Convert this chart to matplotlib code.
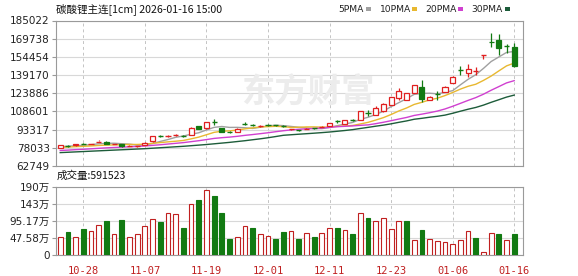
import matplotlib
matplotlib.use('Agg')
import matplotlib.pyplot as plt
from matplotlib.patches import Rectangle

dates = ['10-23','10-24','10-27','10-28','10-29','10-30','10-31',
         '11-03','11-04','11-05','11-06','11-07','11-10','11-11','11-12','11-13','11-14',
         '11-17','11-18','11-19','11-20','11-21','11-24','11-25','11-26','11-27','11-28',
         '12-01','12-02','12-03','12-04','12-05','12-08','12-09','12-10','12-11','12-12',
         '12-15','12-16','12-17','12-18','12-19','12-22','12-23','12-24','12-25','12-26',
         '12-29','12-30','12-31','01-05','01-06','01-07','01-08','01-09',
         '01-12','01-13','01-14','01-15','01-16']

opens = [78000, 79600, 80000, 81500, 81500, 83200, 83000, 81500, 81100, 79500,
         79300, 80500, 83400, 88000, 87600, 88500, 88000, 88900, 96400, 94300,
         100000, 94800, 91700, 91400, 98000, 97200, 96000, 97200, 97100, 96400,
         93500, 93000, 94000, 94700, 95400, 96200, 100600, 97900, 101400, 101800,
         107600, 106000, 108800, 114400, 120300, 118600, 124500, 129200, 118100, 123300,
         125000, 132900, 143500, 141000, 142200, 155700, 167300, 168500, 163600, 162800]
highs = [80500, 80300, 81600, 82300, 82400, 84500, 83600, 81900, 81400, 80200,
         79700, 82500, 88000, 89000, 88700, 89900, 88500, 95300, 96700, 99800,
         102600, 95100, 91900, 94500, 99500, 98000, 97000, 97800, 97300, 97200,
         94000, 93200, 94400, 94900, 96300, 99000, 101800, 101300, 102600, 109000,
         110200, 113000, 115300, 120900, 127900, 124000, 130700, 134800, 121400, 125800,
         129800, 138200, 146600, 148300, 146000, 156000, 174100, 173500, 165100, 165700]
lows = [77700, 78900, 79800, 80900, 81200, 82900, 81000, 81300, 78900, 79300,
        79100, 80300, 83200, 86900, 87000, 87900, 87200, 88700, 93800, 94000,
        97100, 91000, 90900, 91200, 96900, 96300, 95600, 96500, 96700, 95700,
        93300, 92500, 93800, 94100, 95200, 96000, 98500, 97700, 100200, 101600,
        104900, 105800, 108500, 114200, 118000, 118300, 124200, 116600, 117800, 118100,
        124700, 132700, 139100, 137600, 139600, 152300, 162800, 155900, 157300, 146000]
closes = [80000, 79300, 81300, 81200, 81700, 83400, 81400, 81700, 79200, 79700,
          79500, 82200, 87800, 87700, 87800, 88700, 87800, 95100, 94000, 99500,
          99700, 91400, 91300, 94200, 97800, 97000, 96300, 97000, 96900, 96100,
          93700, 92800, 94200, 94400, 95700, 98700, 100300, 101000, 101100, 108800,
          107300, 111900, 114900, 120500, 125400, 123700, 130400, 118900, 121100, 123000,
          129500, 137900, 143200, 144300, 142500, 155900, 166900, 162300, 163300, 146600]

# volume in units of 10k (万)
volumes = [50.4, 63.4, 50.4, 73.7, 68.1, 84.9, 94.2, 59.7, 98.9, 50.4,
           59.7, 82.1, 100.8, 93.3, 117.6, 112.9, 76.5, 140.9, 152.1, 180.1,
           163.3, 116.6, 45.7, 50.4, 82.1, 76.5, 59.7, 54.1, 45.7, 65.3,
           68.1, 45.7, 62.5, 51.3, 62.5, 75.6, 75.6, 70.9, 59.7, 117.6,
           104.5, 95.2, 103.6, 72.8, 95.2, 95.2, 42.9, 70.9, 44.8, 40.1,
           35.5, 31.7, 42.0, 68.1, 48.5, 7.5, 62.5, 59.7, 42.9, 59.15]
vol_up = [1, 0, 1, 0, 1, 1, 0, 1, 0, 1,
          1, 1, 1, 0, 1, 1, 0, 1, 0, 1,
          0, 0, 0, 1, 1, 0, 1, 1, 0, 0,
          1, 0, 1, 0, 1, 1, 0, 1, 0, 1,
          0, 1, 1, 1, 1, 0, 1, 0, 1, 1,
          1, 1, 1, 1, 0, 1, 1, 0, 1, 0]

ma5 = [79000, 79300, 79800, 80200, 80700, 81380, 81800, 81880, 81480, 81080,
       80300, 80460, 81680, 83380, 85000, 86840, 87960, 89420, 90680, 93020,
       95220, 95940, 95180, 95220, 94880, 94340, 95320, 96460, 97000, 96660,
       96000, 95300, 94740, 94240, 94160, 95160, 96660, 98020, 99360, 101980,
       103700, 106020, 108800, 112680, 116000, 119280, 122980, 123780, 123900, 123420,
       124580, 126080, 130940, 135580, 139480, 144760, 150560, 154380, 158180, 159000]
ma10 = [78500, 78700, 79000, 79300, 79600, 80000, 80300, 80500, 80700, 80890,
        80840, 81130, 81780, 82430, 83040, 83570, 84210, 85550, 87030, 89010,
        91030, 91950, 92300, 92950, 93950, 94780, 95630, 95820, 96110, 95770,
        95170, 95310, 95600, 95620, 95410, 95580, 95980, 96380, 96800, 98070,
        99430, 101340, 103410, 106020, 108990, 111490, 114500, 116290, 118290, 119710,
        121930, 124530, 127360, 129740, 131450, 134670, 138320, 142660, 146880, 149240]
ma20 = [75800, 76100, 76500, 76800, 77200, 77600, 78000, 78300, 78600, 78900,
        79200, 79600, 80100, 80600, 81200, 81800, 82400, 83200, 84000, 84950,
        85935, 86540, 87040, 87690, 88495, 89175, 89920, 90685, 91570, 92390,
        93100, 93630, 93950, 94285, 94680, 95180, 95805, 96100, 96455, 96920,
        97300, 98325, 99505, 100820, 102200, 103535, 105240, 106335, 107545, 108890,
        110680, 112935, 115385, 117880, 120220, 123080, 126410, 129475, 132585, 134475]
ma30 = [74000, 74300, 74600, 74900, 75200, 75500, 75800, 76100, 76400, 76700,
        77000, 77300, 77700, 78100, 78500, 78900, 79300, 79800, 80300, 80800,
        81400, 82000, 82600, 83300, 84000, 84800, 85600, 86500, 87500, 88557,
        89013, 89463, 89893, 90333, 90800, 91310, 91940, 92583, 93313, 94283,
        95210, 96200, 97103, 98197, 99450, 100617, 102037, 102830, 103733, 104517,
        105510, 107060, 108790, 110460, 111950, 113913, 116267, 118443, 120657, 122340]

price_ticks = [62749, 78033, 93317, 108601, 123886, 139170, 154454, 169738, 185022]
vol_ticks = [0, 47.58, 95.17, 142.75, 190.33]
vol_tick_labels = ['0', '47.58万', '95.17万', '143万', '190万']
xtick_labels = ['10-28', '11-07', '11-19', '12-01', '12-11', '12-23', '01-06', '01-16']
ma_names = ['5PMA', '10PMA', '20PMA', '30PMA']

RED = '#e02020'
VRED = '#c02020'
GREEN = '#127a12'
MA_COLORS = ['#a0a0a0', '#e8b830', '#d040d0', '#1d5c3a']
GRID = '#d8d8d8'
FRAME = '#9a9a9a'

W, H = 578, 276
fig = plt.figure(figsize=(W / 100, H / 100), dpi=100)

def fx(px):
    return px / W

def fy(py):
    return 1 - py / H

L, R = 56, 522.7
ax = fig.add_axes([fx(L), fy(166), (R - L) / W, (166 - 20.5) / H])
axv = fig.add_axes([fx(L), fy(255), (R - L) / W, (255 - 186.7) / H])

n = len(closes)
xs = list(range(n))
xlo, xhi = -0.55, 60.1
grid_idx = [dates.index(d) for d in xtick_labels]

for a in (ax, axv):
    a.set_xlim(xlo, xhi)
    for s in a.spines.values():
        s.set_color(FRAME)
        s.set_linewidth(0.8)
    for gi in grid_idx:
        a.axvline(gi, color='#c4c4c4', lw=0.7, ls=(0, (3, 3)), zorder=0)
    a.set_axisbelow(True)
    a.grid(axis='y', color=GRID, lw=0.8, ls='-')
    a.tick_params(axis='y', direction='out', length=3, color=FRAME, pad=1.5,
                  labelsize=7.5, labelcolor='#222222')

# watermark
fig.text(fx(308), fy(93), '东方财富', fontsize=24, fontweight='bold', color='#ececec',
         family=['Noto Sans CJK SC'], ha='center', va='center', zorder=0)

# price panel
ax.set_ylim(price_ticks[0], price_ticks[-1])
ax.set_yticks(price_ticks)
ax.set_yticklabels([str(v) for v in price_ticks])
ax.set_xticks([])

for nm, ma, col in zip(ma_names, [ma5, ma10, ma20, ma30], MA_COLORS):
    ax.plot(xs, ma, color=col, lw=1.0, zorder=2)

bw = 0.66
for i in xs:
    o, h, l, c = opens[i], highs[i], lows[i], closes[i]
    up = c >= o
    col = RED if up else GREEN
    top, bot = max(o, c), min(o, c)
    ax.vlines(i, top, h, color=col, lw=0.9, zorder=3)
    ax.vlines(i, l, bot, color=col, lw=0.9, zorder=3)
    if top - bot < 400:
        ax.hlines((top + bot) / 2, i - bw / 2, i + bw / 2, color=col, lw=1.0, zorder=3)
    else:
        ax.add_patch(Rectangle((i - bw / 2, bot), bw, top - bot,
                               facecolor='white' if up else col, edgecolor=col,
                               lw=0.9, zorder=4))

# volume panel
axv.set_ylim(0, vol_ticks[-1])
axv.set_yticks(vol_ticks)
axv.set_yticklabels(vol_tick_labels, family=['DejaVu Sans', 'Noto Sans CJK SC'])
vcols = [VRED if u else GREEN for u in vol_up]
vfill = ['white' if u else GREEN for u in vol_up]
axv.bar(xs, volumes, width=0.62, color=vfill, edgecolor=vcols, lw=0.8, zorder=3)
axv.set_xticks(grid_idx)
axv.set_xticklabels(xtick_labels, family='DejaVu Sans Mono', fontsize=7.5, color='#c02020')
axv.tick_params(axis='x', length=0, pad=8)

# title and labels
fig.text(fx(56), fy(9.5), '碳酸锂主连[1cm] 2026-01-16 15:00', fontsize=7.6,
         family=['Noto Sans CJK SC', 'DejaVu Sans'], ha='left', va='center', color='#111111')
fig.text(fx(57), fy(176), '成交量:591523', fontsize=7.6,
         family=['Noto Sans CJK SC', 'DejaVu Sans'], ha='left', va='center', color='#111111')

# legend
leg_x = [338, 380, 425, 471]
sw_x = [366, 412, 458, 505]
for nm, col, tx, sx in zip(ma_names, MA_COLORS, leg_x, sw_x):
    fig.text(fx(tx), fy(9), nm, fontsize=6.6, family='DejaVu Sans', ha='left',
             va='center', color='#222222')
    fig.patches.append(Rectangle((fx(sx), fy(10.5)), 5 / W, 3 / H, transform=fig.transFigure,
                                 facecolor=col, edgecolor='none', figure=fig))

fig.savefig('out.png', dpi=100)
